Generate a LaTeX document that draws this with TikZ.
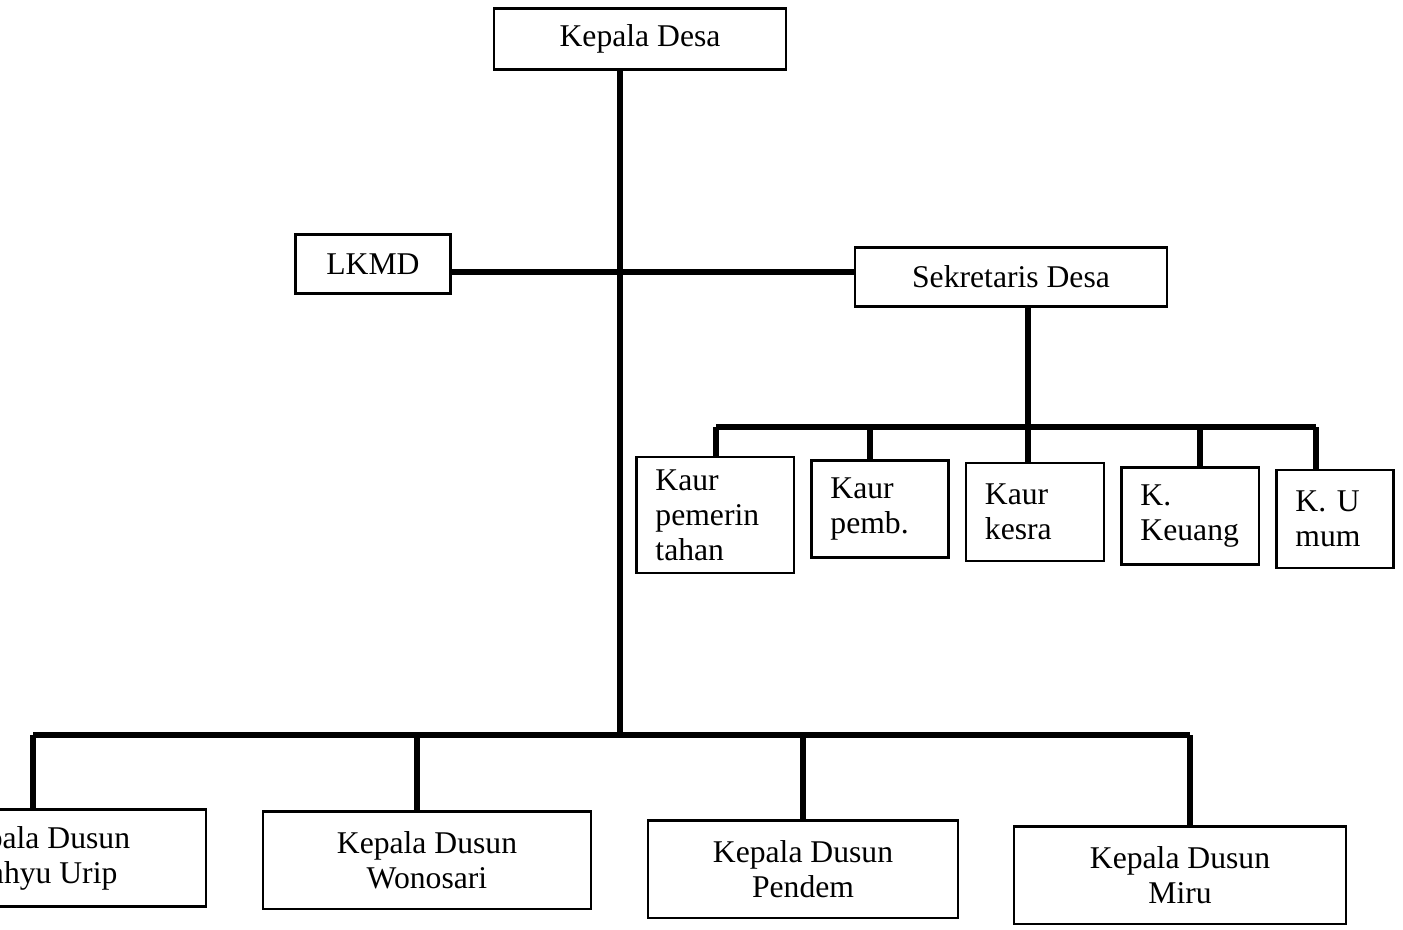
\documentclass[tikz,border=0pt]{standalone}
\usepackage{fontspec}
\setmainfont{Liberation Serif}

\tikzset{
  jabatan/.style = {draw, line width = 0.6pt, font = \fontsize{9}{10}\selectfont},
  kaur/.style = {jabatan, align = left, inner xsep = 0.19cm},
  dusun/.style = {jabatan, align = center, minimum height = 0.97cm},
  garis/.style = {line width = 1.6pt}
}

\begin{document}
\begin{tikzpicture}[x = 0.01cm, y = -0.01cm]
\useasboundingbox (0, 0) rectangle (1403, 929);
\node[jabatan, minimum width = 2.92cm, minimum height = 0.61cm] (kades) at (640, 39) {Kepala Desa};
\node[jabatan, minimum width = 1.55cm, minimum height = 0.59cm] (lkmd) at (373, 264) {LKMD};
\node[jabatan, minimum width = 3.12cm, minimum height = 0.59cm] (sekdes) at (1011, 277) {Sekretaris Desa};
\node[kaur, text width = 1.19cm, minimum height = 1.16cm] (kaur1) at (715, 515) {Kaur\\pemerin\\tahan};
\node[kaur, text width = 0.99cm, minimum height = 0.97cm] (kaur2) at (880, 509) {Kaur\\pemb.};
\node[kaur, text width = 1.00cm, minimum height = 0.98cm] (kaur3) at (1035, 512) {Kaur\\kesra};
\node[kaur, text width = 0.99cm, minimum height = 0.97cm] (kaur4) at (1190, 516) {K.\\Keuang};
\node[kaur, text width = 0.79cm, minimum height = 0.98cm] (kaur5) at (1335, 519) {K. U\\mum};
\node[dusun, minimum width = 3.31cm] (dusun1) at (40, 858) {Kepala Dusun\\Wahyu Urip};
\node[dusun, minimum width = 3.28cm] (dusun2) at (427, 860) {Kepala Dusun\\Wonosari};
\node[dusun, minimum width = 3.10cm] (dusun3) at (803, 869) {Kepala Dusun\\Pendem};
\node[dusun, minimum width = 3.31cm] (dusun4) at (1180, 875) {Kepala Dusun\\Miru};

\coordinate (pusat) at (620, 272);
\coordinate (dbus) at (620, 735);
\coordinate (kbus) at (1028, 427);
\coordinate (k1) at (716, 427);
\coordinate (k2) at (870, 427);
\coordinate (k4) at (1200, 427);
\coordinate (k5) at (1316, 427);
\coordinate (d1) at (33, 735);
\coordinate (d2) at (417, 735);
\coordinate (d3) at (803, 735);
\coordinate (d4) at (1190, 735);

\draw[garis] (kades.south -| pusat) -- (dbus);
\draw[garis] (lkmd.east |- pusat) -- (sekdes.west |- pusat);
\draw[garis] (sekdes.south -| kbus) -- (kaur3.north -| kbus);
\draw[garis] (k1) -- (k5);
\draw[garis] (d1) -- (d4);
\draw[garis] (k1) -- (kaur1.north -| k1);
\draw[garis] (k2) -- (kaur2.north -| k2);
\draw[garis] (k4) -- (kaur4.north -| k4);
\draw[garis] (k5) -- (kaur5.north -| k5);
\draw[garis] (d1) -- (dusun1.north -| d1);
\draw[garis] (d2) -- (dusun2.north -| d2);
\draw[garis] (d3) -- (dusun3.north -| d3);
\draw[garis] (d4) -- (dusun4.north -| d4);
\end{tikzpicture}
\end{document}
